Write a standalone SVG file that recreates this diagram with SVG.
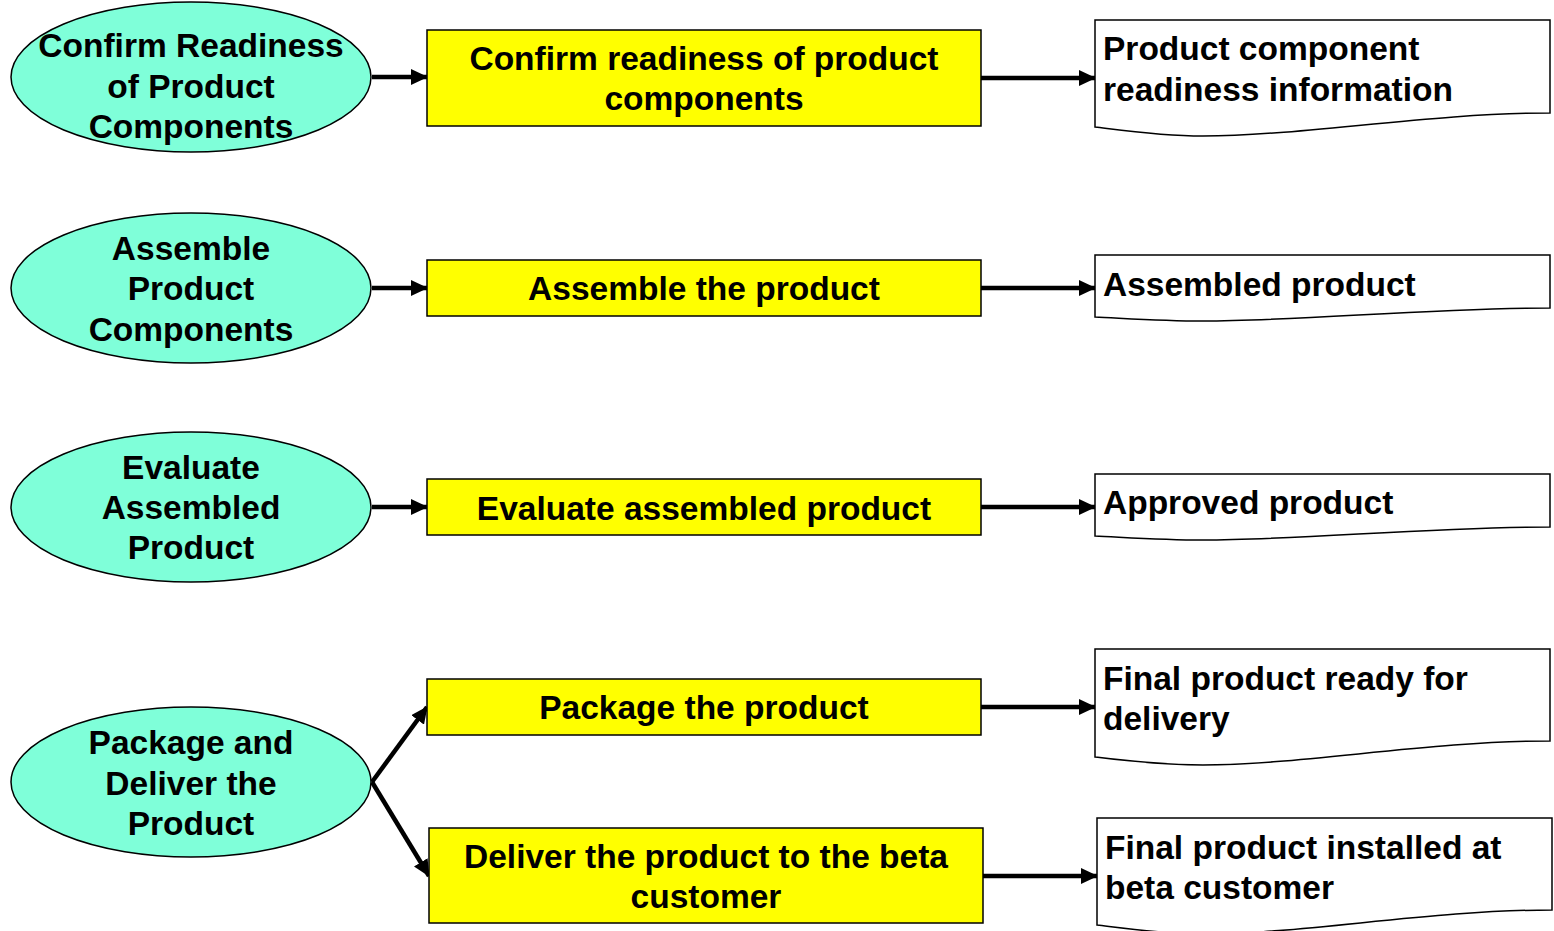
<svg xmlns="http://www.w3.org/2000/svg" width="1554" height="931" viewBox="0 0 1554 931">
<style>
.ell{fill:#7FFFD9;stroke:#000;stroke-width:1.5}
.box{fill:#FFFF00;stroke:#000;stroke-width:1.5}
.doc{fill:#fff;stroke:#000;stroke-width:1.5}
text{font-family:"Liberation Sans",Arial,sans-serif;font-weight:bold;font-size:33.5px;fill:#000}
.c{text-anchor:middle}
.conn{stroke:#000;stroke-width:4.5;fill:none;marker-end:url(#ah)}
</style>
<defs>
<marker id="ah" markerUnits="userSpaceOnUse" markerWidth="17" markerHeight="16" refX="16" refY="8" orient="auto" viewBox="0 0 17 16">
<path d="M0,0 L17,8 L0,16 Z" fill="#000"/>
</marker>
</defs>
<rect width="1554" height="931" fill="#fff"/>

<g id="connectors">
<line class="conn" x1="372" y1="77" x2="427" y2="77"/>
<line class="conn" x1="981" y1="78" x2="1095" y2="78"/>
<line class="conn" x1="372" y1="288" x2="427" y2="288"/>
<line class="conn" x1="981" y1="288" x2="1095" y2="288"/>
<line class="conn" x1="372" y1="507" x2="427" y2="507"/>
<line class="conn" x1="981" y1="507" x2="1095" y2="507"/>
<line class="conn" x1="372" y1="782" x2="427" y2="707"/>
<line class="conn" x1="372" y1="782" x2="429" y2="876"/>
<line class="conn" x1="981" y1="707" x2="1095" y2="707"/>
<line class="conn" x1="983" y1="876" x2="1097" y2="876"/>
</g>

<g id="e1"><ellipse class="ell" cx="191" cy="77" rx="180" ry="75"/>
<text class="c" x="191" y="57">Confirm Readiness</text><text class="c" x="191" y="98">of Product</text><text class="c" x="191" y="138">Components</text></g>
<g id="e2"><ellipse class="ell" cx="191" cy="288" rx="180" ry="75"/>
<text class="c" x="191" y="260">Assemble</text><text class="c" x="191" y="300">Product</text><text class="c" x="191" y="341">Components</text></g>
<g id="e3"><ellipse class="ell" cx="191" cy="507" rx="180" ry="75"/>
<text class="c" x="191" y="479">Evaluate</text><text class="c" x="191" y="519">Assembled</text><text class="c" x="191" y="559">Product</text></g>
<g id="e4"><ellipse class="ell" cx="191" cy="782" rx="180" ry="75"/>
<text class="c" x="191" y="754">Package and</text><text class="c" x="191" y="795">Deliver the</text><text class="c" x="191" y="835">Product</text></g>

<g id="b1"><rect class="box" x="427" y="30" width="554" height="96"/>
<text class="c" x="704" y="70">Confirm readiness of product</text><text class="c" x="704" y="110">components</text></g>
<g id="b2"><rect class="box" x="427" y="260" width="554" height="56"/>
<text class="c" x="704" y="300">Assemble the product</text></g>
<g id="b3"><rect class="box" x="427" y="479" width="554" height="56"/>
<text class="c" x="704" y="520">Evaluate assembled product</text></g>
<g id="b4"><rect class="box" x="427" y="679" width="554" height="56"/>
<text class="c" x="704" y="719">Package the product</text></g>
<g id="b5"><rect class="box" x="429" y="828" width="554" height="95"/>
<text class="c" x="706" y="868">Deliver the product to the beta</text><text class="c" x="706" y="908">customer</text></g>

<g id="d1"><path class="doc" d="M1095,20 H1550 V113 C1430,113 1300,136 1203,136 C1160,136 1120,130 1095,127 Z"/>
<text x="1103" y="60">Product component</text><text x="1103" y="101">readiness information</text></g>
<g id="d2"><path class="doc" d="M1095,255 H1550 V308 C1430,308 1300,321 1203,321 C1160,321 1120,318 1095,317 Z"/>
<text x="1103" y="296">Assembled product</text></g>
<g id="d3"><path class="doc" d="M1095,474 H1550 V527 C1430,527 1300,540 1203,540 C1160,540 1120,537 1095,536 Z"/>
<text x="1103" y="514">Approved product</text></g>
<g id="d4"><path class="doc" d="M1095,649 H1550 V741 C1430,741 1300,765 1203,765 C1160,765 1120,760 1095,757 Z"/>
<text x="1103" y="690">Final product ready for</text><text x="1103" y="730">delivery</text></g>
<g id="d5"><path class="doc" d="M1097,818 H1552 V910 C1432,910 1302,934 1205,934 C1162,934 1122,928 1097,925 Z"/>
<text x="1105" y="859">Final product installed at</text><text x="1105" y="899">beta customer</text></g>
</svg>
